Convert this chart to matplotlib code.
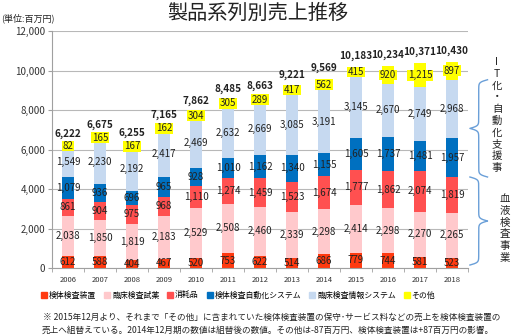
import numpy as np
import matplotlib
matplotlib.use('Agg')
import matplotlib.pyplot as plt
from matplotlib.lines import Line2D

plt.rcParams['font.family'] = ['Noto Sans CJK JP', 'DejaVu Sans']

years = ['2006', '2007', '2008', '2009', '2010', '2011', '2012',
         '2013', '2014', '2015', '2016', '2017', '2018']

sample_device = [612, 588, 404, 467, 520, 753, 622, 514, 686, 779, 744, 581, 523]
reagent = [2038, 1850, 1819, 2183, 2529, 2508, 2460, 2339, 2298, 2414, 2298, 2270, 2265]
consumable = [861, 904, 975, 968, 1110, 1274, 1459, 1523, 1674, 1777, 1862, 2074, 1819]
automation = [1079, 936, 696, 965, 928, 1010, 1162, 1340, 1155, 1605, 1737, 1481, 1957]
info_system = [1549, 2230, 2192, 2417, 2469, 2632, 2669, 3085, 3191, 3145, 2670, 2749, 2968]
other = [82, 165, 167, 162, 304, 305, 289, 417, 562, 415, 920, 1215, 897]
totals = [6222, 6675, 6255, 7165, 7862, 8485, 8663, 9221, 9569, 10183, 10234, 10371, 10430]

series_names = ['検体検査装置', '臨床検査試薬', '消耗品', '検体検査自動化システム',
                '臨床検査情報システム', 'その他']
series_colors = ['#FF3A10', '#FFC9CC', '#FF5050', '#0070C0', '#C6D9F0', '#FFFF00']

note_1 = '※ 2015年12月より、それまで「その他」に含まれていた検体検査装置の保守･サービス料などの売上を検体検査装置の'
note_2 = '売上へ組替えている。2014年12月期の数値は組替後の数値。その他は-87百万円、検体検査装置は+87百万円の影響。'

W, H = 530, 336


def px(x, y):
    # pixel position -> figure fraction
    return x / W, 1 - y / H


def brace(ax, x0, y0, y1, w, color):
    t = np.linspace(y0, y1, 401)
    half = t[:201]
    beta = 0.016
    s = 1 / (1 + np.exp(-beta * (half - half[0]))) + 1 / (1 + np.exp(-beta * (half - half[-1])))
    s = np.concatenate((s, s[-2::-1]))
    ax.plot(x0 + w * (s - 0.5), t, color=color, lw=1, clip_on=False)


fig = plt.figure(figsize=(5.3, 3.36), dpi=100)
ax = fig.add_axes([52 / W, 1 - 268 / H, 416 / W, 237 / H])

data = np.array([sample_device, reagent, consumable, automation, info_system, other])
x = np.arange(len(years))
bottoms = np.vstack([np.zeros(len(years)), np.cumsum(data, axis=0)[:-1]])

for i, (vals, name, col) in enumerate(zip(data, series_names, series_colors)):
    ax.bar(x, vals, bottom=bottoms[i], width=0.4, color=col, label=name, zorder=2)
    for j, v in enumerate(vals):
        yc = bottoms[i][j] + v / 2
        if i == 5:
            ax.text(x[j], yc, f'{v:,}', ha='center', va='center', fontsize=7,
                    color='#222222', zorder=4,
                    bbox=dict(facecolor='#FFFF00', edgecolor='none', pad=0.3))
        else:
            ax.text(x[j], yc, f'{v:,}', ha='center', va='center', fontsize=7,
                    color='#222222', zorder=4)

for j, tot in enumerate(totals):
    ax.annotate(f'{tot:,}', (x[j], tot), xytext=(0, 4.5), textcoords='offset points',
                ha='center', va='bottom', fontsize=7.2, fontweight='bold', color='#222222')

ax.set_xlim(-0.5, len(years) - 0.5)
ax.set_ylim(0, 12000)
ax.set_yticks(np.arange(0, 12001, 2000))
ax.set_yticklabels([f'{v:,}' for v in range(0, 12001, 2000)], fontsize=7, color='#333333')
ax.set_xticks(x)
ax.set_xticklabels(years, fontsize=5.5, color='#333333')
ax.set_xticks(np.arange(-0.5, len(years), 1), minor=True)
ax.tick_params(axis='x', which='major', length=0, pad=6)
ax.tick_params(axis='x', which='minor', length=3, color='#A0A0A0')
ax.tick_params(axis='y', length=3, color='#A0A0A0', pad=2)
ax.grid(axis='y', color='#B8B8B8', lw=0.8, zorder=0)
ax.set_axisbelow(True)
for side in ['top', 'right']:
    ax.spines[side].set_visible(False)
for side in ['left', 'bottom']:
    ax.spines[side].set_color('#A0A0A0')
    ax.spines[side].set_linewidth(0.8)

# braces for the business segments, anchored on the last bar
last = len(years) - 1
brace(ax, 12.56, bottoms[5][last], bottoms[3][last], 0.55, '#6A9FD8')
brace(ax, 12.56, 150, bottoms[3][last], 0.55, '#6A9FD8')

upper_chars = ['I', 'T', '化', '・', '自', '動', '化', '支', '援', '事']
for k, ch in enumerate(upper_chars):
    fig.text(*px(497, 62 + k * 11.8), ch, ha='center', va='center', fontsize=7.5, color='#222222')
lower_chars = ['血', '液', '検', '査', '事', '業']
for k, ch in enumerate(lower_chars):
    fig.text(*px(505, 199 + k * 11.8), ch, ha='center', va='center', fontsize=7.5, color='#222222')

fig.text(*px(258, 13), '製品系列別売上推移', ha='center', va='center', fontsize=14.5, color='#222222')
fig.text(*px(1, 18), '(単位:百万円)', ha='left', va='center', fontsize=6.5, color='#222222')

handles = [Line2D([], [], marker='s', ls='none', color=c, markersize=4.5) for c in series_colors]
fig.legend(handles, series_names, loc='center', bbox_to_anchor=px(238, 295), ncol=6,
           fontsize=5.7, frameon=False, handlelength=0.8, handletextpad=0.2,
           columnspacing=1.0, borderpad=0)

fig.text(*px(43, 317), note_1, ha='left', va='center', fontsize=6.2, color='#222222')
fig.text(*px(42, 330), note_2, ha='left', va='center', fontsize=6.2, color='#222222')

fig.savefig('out.png', dpi=100)
